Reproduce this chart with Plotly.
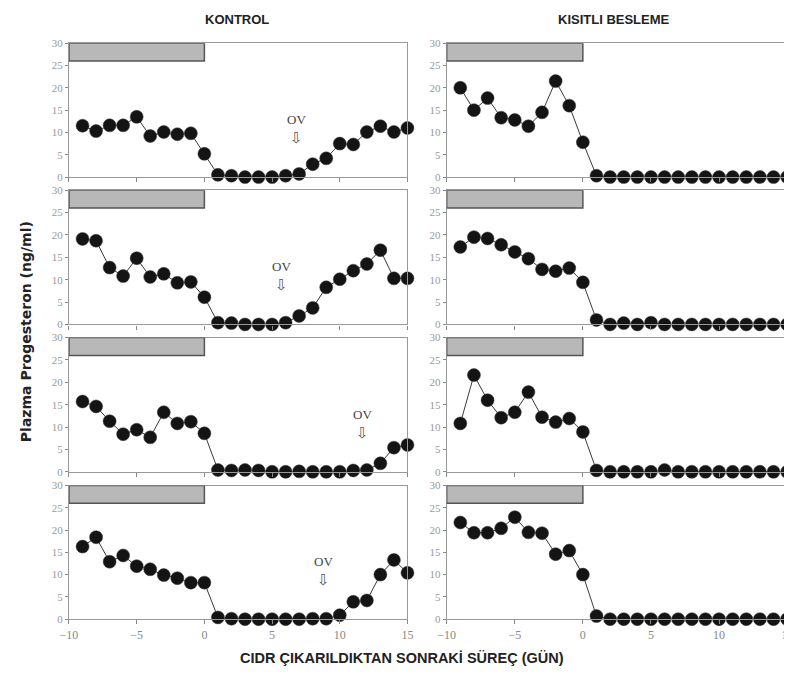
import plotly.graph_objects as go
from plotly.subplots import make_subplots

days = list(range(-9, 16))

kontrol_1 = [11.5, 10.3, 11.6, 11.6, 13.5, 9.2, 10.1, 9.6, 9.8, 5.2, 0.5, 0.3, 0.0, 0.0, 0.0, 0.3, 0.7, 2.9, 4.2, 7.5, 7.3, 10.1, 11.4, 10.1, 11.0]
kontrol_2 = [19.1, 18.7, 12.7, 10.8, 14.8, 10.6, 11.3, 9.3, 9.5, 6.1, 0.4, 0.3, 0.0, 0.0, 0.0, 0.4, 1.9, 3.7, 8.3, 10.1, 12.0, 13.5, 16.6, 10.3, 10.3]
kontrol_3 = [15.7, 14.6, 11.3, 8.4, 9.4, 7.7, 13.3, 10.8, 11.2, 8.6, 0.4, 0.3, 0.4, 0.3, 0.0, 0.0, 0.1, 0.0, 0.0, 0.0, 0.3, 0.4, 1.9, 5.4, 6.0]
kontrol_4 = [16.3, 18.4, 12.9, 14.3, 11.9, 11.2, 9.9, 9.2, 8.2, 8.2, 0.4, 0.1, 0.0, 0.0, 0.0, 0.0, 0.0, 0.1, 0.1, 0.9, 3.9, 4.2, 10.0, 13.3, 10.4]

kisitli_1 = [20.0, 15.0, 17.7, 13.3, 12.8, 11.4, 14.5, 21.5, 16.0, 7.8, 0.3, 0.0, 0.0, 0.0, 0.0, 0.0, 0.0, 0.0, 0.0, 0.0, 0.0, 0.0, 0.0, 0.0, 0.0]
kisitli_2 = [17.3, 19.5, 19.2, 17.8, 16.2, 14.7, 12.3, 11.9, 12.6, 9.4, 1.0, 0.0, 0.3, 0.0, 0.4, 0.0, 0.0, 0.0, 0.0, 0.0, 0.0, 0.0, 0.0, 0.0, 0.0]
kisitli_3 = [10.8, 21.6, 16.0, 12.1, 13.3, 17.8, 12.2, 11.1, 11.9, 8.9, 0.3, 0.0, 0.0, 0.0, 0.0, 0.4, 0.0, 0.0, 0.0, 0.0, 0.0, 0.0, 0.0, 0.0, 0.0]
kisitli_4 = [21.7, 19.4, 19.4, 20.4, 22.9, 19.5, 19.3, 14.6, 15.4, 10.0, 0.7, 0.0, 0.0, 0.0, 0.0, 0.0, 0.0, 0.0, 0.0, 0.0, 0.0, 0.0, 0.0, 0.0, 0.0]

# ovulation day markers (x, label y) for KONTROL panels
ov_x = [6.8, 5.7, 11.7, 8.8]
ov_y = [13.0, 12.9, 12.9, 12.9]

col_titles = ["KONTROL", "KISITLI BESLEME"]
x_title = "CIDR ÇIKARILDIKTAN SONRAKİ SÜREÇ (GÜN)"
y_title = "Plazma Progesteron (ng/ml)"
x_ticks = [-10, -5, 0, 5, 10, 15]
y_ticks = [0, 5, 10, 15, 20, 25, 30]

W, H = 792, 682
OFF = 8  # page body margin offset

fig = make_subplots(rows=4, cols=2)

col_px = [(61, 406), (446, 793)]
row_px = [(37.7, 174), (187.3, 324), (337.3, 474), (488, 624)]

series = [[kontrol_1, kisitli_1], [kontrol_2, kisitli_2], [kontrol_3, kisitli_3], [kontrol_4, kisitli_4]]

serif = "Liberation Serif, Times New Roman, serif"
sans = "Liberation Sans, Arial, sans-serif"


def px_x(p):
    return (p - OFF) / W


def px_y(p):
    return 1 - (p - OFF) / H


for r in range(4):
    for c in range(2):
        idx = r * 2 + c + 1
        xa = "xaxis" if idx == 1 else f"xaxis{idx}"
        ya = "yaxis" if idx == 1 else f"yaxis{idx}"
        xref = "x" if idx == 1 else f"x{idx}"
        yref = "y" if idx == 1 else f"y{idx}"
        fig.add_trace(go.Scatter(
            x=days, y=series[r][c], mode="lines+markers",
            line=dict(color="#3a3a3a", width=1),
            marker=dict(size=13, color="#141414", line=dict(color="#3a3a3a", width=0.5)),
            cliponaxis=False, showlegend=False), row=r + 1, col=c + 1)
        fig.layout[xa].update(
            domain=[px_x(col_px[c][0]), min(1.0, px_x(col_px[c][1]))], range=[-10, 15],
            tickvals=x_ticks, ticks="outside", ticklen=4, tickcolor="#888",
            showticklabels=(r == 3), showgrid=False, zeroline=False,
            showline=True, mirror=True, linecolor="#999", linewidth=1.2,
            tickfont=dict(family=serif, size=12, color="#888"))
        fig.layout[ya].update(
            domain=[px_y(row_px[r][1]), px_y(row_px[r][0])], range=[0, 30],
            tickvals=y_ticks, ticks="outside", ticklen=3, tickcolor="#888",
            showgrid=False, zeroline=False,
            showline=True, mirror=True, linecolor="#999", linewidth=1.2,
            tickfont=dict(family=serif, size=11, color="#999"))
        fig.add_shape(type="rect", xref=xref, yref=yref, x0=-10, x1=0, y0=26, y1=30,
                      fillcolor="#b8b8b8", line=dict(color="#555", width=1.5))
        if c == 0:
            fig.add_annotation(x=ov_x[r], y=ov_y[r], xref=xref, yref=yref, text="OV",
                               showarrow=False, font=dict(family=serif, size=13, color="#444"))
            fig.add_annotation(x=ov_x[r], y=ov_y[r] - 4.2, xref=xref, yref=yref, text="⇩",
                               showarrow=False, font=dict(family="DejaVu Sans", size=15, color="#555"))

fig.add_annotation(x=px_x(232), y=px_y(14), xref="paper", yref="paper", text="<b>KONTROL</b>",
                   xanchor="center", yanchor="middle",
                   showarrow=False, font=dict(family=sans, size=13, color="#222"))
fig.add_annotation(x=px_x(617), y=px_y(14), xref="paper", yref="paper", text="<b>KISITLI BESLEME</b>",
                   xanchor="center", yanchor="middle",
                   showarrow=False, font=dict(family=sans, size=13, color="#222"))
fig.add_annotation(x=px_x(400), y=px_y(664), xref="paper", yref="paper", text=f"<b>{x_title}</b>",
                   xanchor="center", yanchor="middle",
                   showarrow=False, font=dict(family=sans, size=14.5, color="#222"))
fig.add_annotation(x=px_x(17), y=px_y(331), xref="paper", yref="paper", text=f"<b>{y_title}</b>",
                   xanchor="center", yanchor="middle",
                   textangle=-90, showarrow=False, font=dict(family="DejaVu Sans, Verdana, sans-serif", size=14, color="#222"))

fig.update_layout(width=W, height=H, margin=dict(l=0, r=0, t=0, b=0),
                  plot_bgcolor="white", paper_bgcolor="white")

fig.write_html("out.html")
